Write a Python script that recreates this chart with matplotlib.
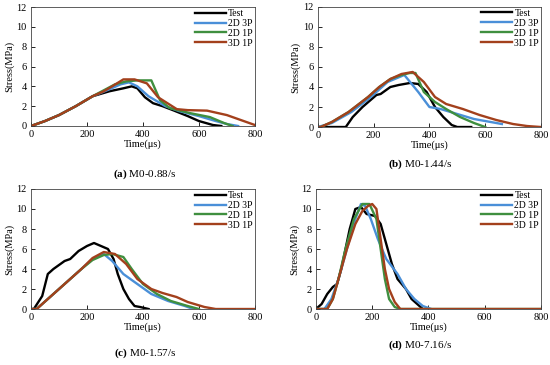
import numpy as np
import matplotlib.pyplot as plt

plt.rcParams['font.family'] = ['Liberation Serif', 'DejaVu Serif']
plt.rcParams['mathtext.fontset'] = 'custom'
plt.rcParams['mathtext.rm'] = 'Liberation Serif'
plt.rcParams['mathtext.bf'] = 'Liberation Serif:bold'

# (a) M0-0.88/s
a_test_t = [0, 50, 100, 160, 220, 280, 330, 360, 380, 407, 436, 470, 507, 560, 600, 650, 680]
a_test_s = [0, 0.5, 1.1, 2.0, 3.0, 3.5, 3.8, 4.0, 3.8, 2.9, 2.3, 2.0, 1.6, 1.0, 0.5, 0.1, 0]
a_3p_t = [0, 50, 100, 160, 220, 280, 320, 350, 380, 420, 480, 530, 600, 660, 700, 740]
a_3p_s = [0, 0.5, 1.1, 2.0, 3.0, 3.7, 4.2, 4.4, 4.0, 3.0, 2.0, 1.5, 1.0, 0.5, 0.2, 0]
a_2p_t = [0, 50, 100, 160, 220, 260, 300, 340, 380, 430, 461, 496, 568, 639, 690, 720]
a_2p_s = [0, 0.5, 1.1, 2.0, 3.0, 3.6, 4.2, 4.5, 4.6, 4.6, 2.6, 1.8, 1.3, 0.9, 0.3, 0]
a_3d_t = [0, 50, 100, 160, 220, 260, 290, 330, 370, 414, 454, 521, 560, 629, 700, 760, 800]
a_3d_s = [0, 0.5, 1.1, 2.0, 3.0, 3.5, 4.0, 4.7, 4.7, 4.3, 2.9, 1.7, 1.6, 1.55, 1.1, 0.5, 0.1]

# (b) M0-1.44/s
b_test_t = [0, 100, 125, 160, 210, 225, 260, 290, 330, 360, 390, 420, 450, 480, 500, 550]
b_test_s = [0, 0, 1.0, 2.0, 3.2, 3.3, 4.0, 4.2, 4.4, 4.3, 3.5, 2.0, 1.0, 0.2, 0, 0]
b_3p_t = [0, 50, 120, 190, 250, 310, 360, 400, 440, 500, 560, 600, 660]
b_3p_s = [0, 0.4, 1.5, 3.0, 4.5, 5.2, 3.5, 2.0, 1.8, 1.3, 0.8, 0.6, 0.3]
b_2p_t = [0, 10, 50, 110, 180, 220, 260, 300, 330, 350, 380, 420, 460, 510, 560, 600]
b_2p_s = [0, 0, 0.5, 1.5, 3.0, 4.0, 4.8, 5.2, 5.4, 5.4, 3.5, 2.5, 1.8, 1.0, 0.4, 0]
b_3d_t = [0, 10, 50, 110, 180, 220, 260, 300, 340, 380, 420, 460, 520, 580, 640, 700, 750, 800]
b_3d_s = [0, 0, 0.5, 1.5, 3.0, 4.0, 4.8, 5.3, 5.5, 4.5, 3.0, 2.3, 1.8, 1.2, 0.7, 0.3, 0.1, 0]

# (c) M0-1.57/s
c_test_t = [0, 10, 40, 60, 80, 120, 140, 170, 200, 225, 250, 275, 295, 310, 330, 350, 370, 390, 420]
c_test_s = [0, 0, 1.3, 3.5, 4.0, 4.8, 5.0, 5.8, 6.3, 6.6, 6.3, 6.0, 5.0, 3.5, 2.0, 1.0, 0.3, 0.2, 0]
c_3p_t = [0, 20, 60, 100, 140, 180, 220, 260, 290, 330, 380, 430, 490, 550, 580]
c_3p_s = [0, 0, 1.0, 2.0, 3.0, 4.0, 5.0, 5.5, 4.8, 3.5, 2.5, 1.5, 0.8, 0.3, 0]
c_2p_t = [0, 20, 60, 100, 140, 180, 220, 260, 290, 330, 360, 400, 450, 500, 560, 600]
c_2p_s = [0, 0, 1.0, 2.0, 3.0, 4.0, 4.9, 5.4, 5.5, 5.2, 4.0, 2.5, 1.5, 0.8, 0.3, 0]
c_3d_t = [0, 20, 60, 100, 140, 180, 220, 260, 300, 340, 380, 430, 470, 520, 560, 620, 660, 800]
c_3d_s = [0, 0, 1.0, 2.0, 3.0, 4.0, 5.1, 5.7, 5.5, 4.5, 3.0, 2.0, 1.6, 1.2, 0.7, 0.2, 0, 0]

# (d) M0-7.16/s
d_test_t = [0, 20, 40, 60, 75, 90, 105, 120, 140, 160, 180, 210, 230, 250, 270, 290, 320, 340, 360, 380]
d_test_s = [0, 0.5, 1.5, 2.2, 2.5, 4.0, 6.0, 8.0, 10.0, 10.2, 9.5, 9.3, 8.5, 6.5, 4.5, 3.0, 2.0, 1.0, 0.5, 0]
d_3p_t = [0, 30, 55, 80, 110, 140, 160, 175, 195, 220, 250, 290, 320, 350, 380, 410]
d_3p_s = [0, 0, 1.0, 3.0, 6.0, 9.0, 10.5, 10.3, 9.0, 7.0, 5.0, 3.5, 2.0, 1.0, 0.3, 0]
d_2p_t = [0, 40, 60, 80, 105, 135, 165, 190, 215, 230, 245, 260, 280, 300, 800]
d_2p_s = [0, 0, 1.0, 3.0, 6.0, 9.0, 10.5, 10.5, 9.0, 6.0, 3.0, 1.0, 0.2, 0, 0]
d_3d_t = [0, 40, 60, 80, 110, 140, 165, 185, 200, 215, 230, 245, 260, 280, 300, 800]
d_3d_s = [0, 0, 1.0, 3.0, 6.0, 8.5, 9.8, 10.3, 10.5, 10.0, 7.0, 4.0, 2.0, 0.7, 0, 0]

labels = ['Test', '2D 3P', '2D 1P', '3D 1P']
colors = ['black', '#4a8fd8', '#3f8f3f', '#a3401c']

panels = [
    ([0.0564, 0.6548, 0.407, 0.326], [(a_test_t, a_test_s), (a_3p_t, a_3p_s), (a_2p_t, a_2p_s), (a_3d_t, a_3d_s)],
     r'$\mathbf{(a)}$ M0-0.88/s', (0.2636, 0.5233)),
    ([0.578, 0.652, 0.4055, 0.329], [(b_test_t, b_test_s), (b_3p_t, b_3p_s), (b_2p_t, b_2p_s), (b_3d_t, b_3d_s)],
     r'$\mathbf{(b)}$ M0-1.44/s', (0.7636, 0.5507)),
    ([0.0564, 0.1534, 0.407, 0.3288], [(c_test_t, c_test_s), (c_3p_t, c_3p_s), (c_2p_t, c_2p_s), (c_3d_t, c_3d_s)],
     r'$\mathbf{(c)}$ M0-1.57/s', (0.2636, 0.0329)),
    ([0.5745, 0.1534, 0.409, 0.3288], [(d_test_t, d_test_s), (d_3p_t, d_3p_s), (d_2p_t, d_2p_s), (d_3d_t, d_3d_s)],
     r'$\mathbf{(d)}$ M0-7.16/s', (0.7636, 0.0548)),
]

fig = plt.figure(figsize=(5.5, 3.65), dpi=100)

for rect, series, caption, cpos in panels:
    ax = fig.add_axes(rect)
    for (t, s), lab, col in zip(series, labels, colors):
        ax.plot(t, s, color=col, lw=1.7, label=lab, solid_joinstyle='round')
    ax.set_xlim(0, 800)
    ax.set_ylim(0, 12)
    ax.set_xticks([0, 200, 400, 600, 800])
    ax.set_yticks([0, 2, 4, 6, 8, 10, 12])
    ax.tick_params(direction='in', labelsize=7.5, length=3, width=0.6, pad=3)
    for sp in ax.spines.values():
        sp.set_linewidth(0.6)
        sp.set_color('#444444')
    ax.set_xlabel('Time(\u03bcs)', fontsize=7.5, labelpad=0)
    ax.set_ylabel('Stress(MPa)', fontsize=7.5, labelpad=2)
    ax.legend(loc='upper right', frameon=False, fontsize=7, handlelength=3.2,
              handletextpad=0.2, labelspacing=0.1, borderaxespad=0.1, borderpad=0.1)
    fig.text(cpos[0], cpos[1], caption, ha='center', va='center', fontsize=8)

fig.savefig('out.png', dpi=100)
